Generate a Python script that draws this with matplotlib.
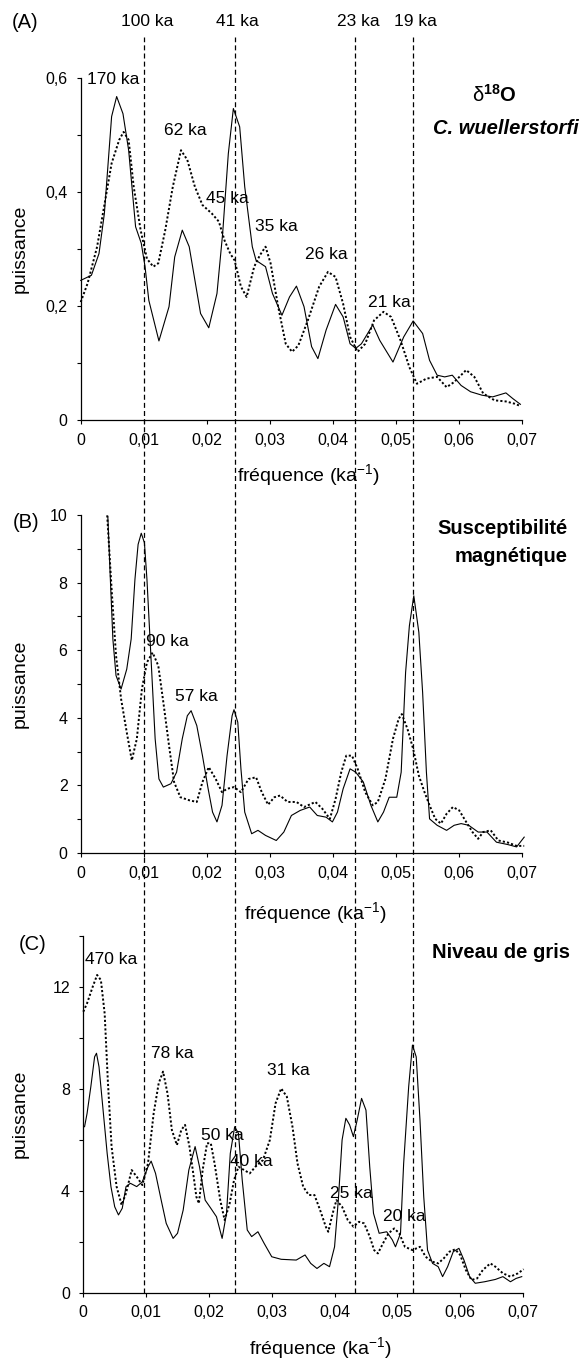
import numpy as np
import matplotlib
matplotlib.use("Agg")
import matplotlib.pyplot as plt
from matplotlib.ticker import FixedLocator, FuncFormatter

plt.rcParams['font.family'] = ['Liberation Sans', 'DejaVu Sans']
plt.rcParams['mathtext.fontset'] = 'custom'
plt.rcParams['mathtext.rm'] = 'Liberation Sans'
plt.rcParams['mathtext.bf'] = 'Liberation Sans:bold'
plt.rcParams['mathtext.it'] = 'Liberation Sans:italic'

# ---------------- data ----------------
periods = [100, 41, 23, 19]  # ka, reference periods (dashed lines)

# Panel A : d18O C. wuellerstorfi
a_solid_x = [0, 0.0017, 0.0029, 0.00375, 0.0049, 0.0057, 0.0067, 0.0076, 0.0087, 0.0096,
             0.0102, 0.0108, 0.0124, 0.0140, 0.0149, 0.0161, 0.0172, 0.0190, 0.0203, 0.0216,
             0.0225, 0.0234, 0.0242, 0.0252, 0.0260, 0.0272, 0.0278, 0.0293, 0.0304, 0.0319,
             0.0331, 0.0342, 0.0354, 0.0366, 0.0376, 0.0389, 0.0404, 0.0416, 0.0427, 0.0436,
             0.0445, 0.0463, 0.0474, 0.0495, 0.0512, 0.0527, 0.0542, 0.0553, 0.0565, 0.0577,
             0.0589, 0.0603, 0.0618, 0.0636, 0.0653, 0.0674, 0.0685, 0.0697]
a_solid_y = [0.245, 0.254, 0.292, 0.362, 0.532, 0.567, 0.537, 0.473, 0.339, 0.310,
             0.269, 0.210, 0.139, 0.199, 0.286, 0.333, 0.304, 0.187, 0.162, 0.222,
             0.327, 0.467, 0.546, 0.514, 0.409, 0.304, 0.280, 0.269, 0.222, 0.184,
             0.216, 0.235, 0.199, 0.129, 0.108, 0.158, 0.203, 0.181, 0.134, 0.126,
             0.134, 0.167, 0.140, 0.102, 0.146, 0.174, 0.152, 0.105, 0.079, 0.076,
             0.079, 0.061, 0.050, 0.044, 0.041, 0.048, 0.038, 0.028]
a_dot_x = [0, 0.0011, 0.0026, 0.0038, 0.0049, 0.0061, 0.0068, 0.0076, 0.0084, 0.0095,
           0.0105, 0.0115, 0.0123, 0.0134, 0.0146, 0.0159, 0.0169, 0.0181, 0.0193, 0.0208,
           0.0219, 0.0228, 0.0237, 0.0244, 0.0254, 0.0263, 0.0275, 0.0284, 0.0293, 0.0301,
           0.0313, 0.0325, 0.0335, 0.0345, 0.0360, 0.0378, 0.0392, 0.0404, 0.0416, 0.0427,
           0.0439, 0.0451, 0.0465, 0.0480, 0.0492, 0.0507, 0.0521, 0.0533, 0.0548, 0.0565,
           0.0580, 0.0592, 0.0611, 0.0624, 0.0638, 0.0656, 0.0674, 0.0688, 0.0697]
a_dot_y = [0.207, 0.240, 0.304, 0.380, 0.450, 0.491, 0.505, 0.491, 0.409, 0.333,
           0.283, 0.269, 0.275, 0.333, 0.409, 0.473, 0.456, 0.409, 0.377, 0.362,
           0.348, 0.315, 0.292, 0.280, 0.234, 0.216, 0.269, 0.289, 0.304, 0.275,
           0.199, 0.134, 0.120, 0.131, 0.175, 0.234, 0.260, 0.251, 0.204, 0.146,
           0.120, 0.134, 0.175, 0.190, 0.181, 0.140, 0.093, 0.064, 0.073, 0.076,
           0.058, 0.067, 0.088, 0.076, 0.047, 0.035, 0.033, 0.029, 0.025]
a_labels = ["170 ka", "62 ka", "45 ka", "35 ka", "26 ka", "21 ka"]
a_label_x = [0.0052, 0.0166, 0.0232, 0.0310, 0.0390, 0.0490]
a_label_y = [0.596, 0.508, 0.389, 0.339, 0.291, 0.207]

# Panel B : susceptibilite magnetique
b_solid_x = [0.0043, 0.0047, 0.0051, 0.0056, 0.0064, 0.0073, 0.0080, 0.0086, 0.0091, 0.0096,
             0.0101, 0.0105, 0.0111, 0.0118, 0.0124, 0.0131, 0.0143, 0.0152, 0.0161, 0.0169,
             0.0175, 0.0184, 0.0193, 0.0202, 0.0209, 0.0216, 0.0224, 0.0232, 0.0240, 0.0243,
             0.0249, 0.0254, 0.0260, 0.0271, 0.0281, 0.0293, 0.0310, 0.0322, 0.0334, 0.0348,
             0.0363, 0.0375, 0.0389, 0.0399, 0.0407, 0.0416, 0.0427, 0.0436, 0.0448, 0.0460,
             0.0471, 0.0480, 0.0489, 0.0501, 0.0508, 0.0515, 0.0521, 0.0528, 0.0536, 0.0542,
             0.0548, 0.0553, 0.0565, 0.0580, 0.0592, 0.0603, 0.0615, 0.0630, 0.0644, 0.0659,
             0.0677, 0.0691, 0.0703]
b_solid_y = [9.95, 8.10, 6.33, 5.25, 4.85, 5.44, 6.33, 8.10, 9.13, 9.46,
             9.18, 8.10, 5.93, 3.38, 2.19, 1.95, 2.05, 2.39, 3.38, 4.06,
             4.21, 3.77, 2.88, 1.90, 1.21, 0.92, 1.41, 2.88, 4.06, 4.24,
             3.87, 2.49, 1.21, 0.57, 0.67, 0.52, 0.37, 0.62, 1.11, 1.26,
             1.36, 1.11, 1.06, 0.92, 1.21, 1.90, 2.49, 2.39, 2.10, 1.41,
             0.92, 1.21, 1.65, 1.65, 2.39, 5.34, 6.72, 7.61, 6.53, 4.75,
             2.39, 1.01, 0.82, 0.67, 0.82, 0.87, 0.82, 0.62, 0.62, 0.32,
             0.25, 0.18, 0.47]
b_dot_x = [0.0042, 0.0049, 0.0056, 0.0064, 0.0073, 0.0081, 0.0089, 0.0097, 0.0105, 0.0114,
           0.0123, 0.0131, 0.0140, 0.0148, 0.0158, 0.0172, 0.0184, 0.0193, 0.0203, 0.0214,
           0.0224, 0.0232, 0.0243, 0.0254, 0.0266, 0.0278, 0.0287, 0.0297, 0.0307, 0.0316,
           0.0328, 0.0342, 0.0354, 0.0372, 0.0383, 0.0395, 0.0404, 0.0413, 0.0421, 0.0430,
           0.0439, 0.0451, 0.0463, 0.0471, 0.0483, 0.0495, 0.0504, 0.0509, 0.0518, 0.0527,
           0.0536, 0.0545, 0.0553, 0.0562, 0.0571, 0.0580, 0.0590, 0.0600, 0.0611, 0.0621,
           0.0630, 0.0638, 0.0650, 0.0662, 0.0677, 0.0691, 0.0703]
b_dot_y = [9.99, 7.80, 5.84, 4.56, 3.57, 2.74, 3.38, 4.85, 5.64, 5.93,
           5.54, 4.46, 3.18, 2.10, 1.65, 1.56, 1.51, 2.10, 2.54, 2.19,
           1.80, 1.90, 1.95, 1.80, 2.19, 2.24, 1.80, 1.43, 1.65, 1.70,
           1.51, 1.51, 1.36, 1.51, 1.31, 1.01, 1.60, 2.39, 2.88, 2.88,
           2.49, 1.80, 1.41, 1.51, 2.19, 3.38, 3.97, 4.11, 3.67, 3.08,
           2.29, 1.80, 1.41, 1.01, 0.87, 1.16, 1.36, 1.26, 0.92, 0.62,
           0.42, 0.62, 0.67, 0.37, 0.31, 0.21, 0.21]
b_labels = ["90 ka", "57 ka"]
b_label_x = [0.0137, 0.0184]
b_label_y = [6.26, 4.64]

# Panel C : niveau de gris
c_solid_x = [0.0002, 0.0006, 0.0012, 0.0018, 0.0021, 0.0025, 0.0032, 0.0038, 0.0044, 0.0050,
             0.0056, 0.0062, 0.0068, 0.0075, 0.0085, 0.0094, 0.0103, 0.0108, 0.0115, 0.0124,
             0.0132, 0.0143, 0.0150, 0.0159, 0.0168, 0.0178, 0.0185, 0.0194, 0.0203, 0.0212,
             0.0221, 0.0228, 0.0234, 0.0241, 0.0247, 0.0253, 0.0261, 0.0268, 0.0278, 0.0288,
             0.0300, 0.0315, 0.0339, 0.0353, 0.0362, 0.0372, 0.0383, 0.0392, 0.0400, 0.0406,
             0.0412, 0.0418, 0.0424, 0.0430, 0.0436, 0.0443, 0.0450, 0.0456, 0.0462, 0.0471,
             0.0483, 0.0492, 0.0497, 0.0505, 0.0510, 0.0518, 0.0524, 0.0530, 0.0536, 0.0542,
             0.0548, 0.0556, 0.0565, 0.0572, 0.0580, 0.0589, 0.0598, 0.0606, 0.0615, 0.0624,
             0.0639, 0.0656, 0.0668, 0.0680, 0.0689, 0.0698]
c_solid_y = [6.51, 7.03, 8.08, 9.25, 9.39, 8.86, 7.03, 5.46, 4.16, 3.37,
             3.05, 3.31, 4.16, 4.29, 4.16, 4.35, 4.94, 5.16, 4.68, 3.63,
             2.72, 2.13, 2.33, 3.24, 4.81, 5.73, 4.94, 3.63, 3.31, 2.98,
             2.13, 3.11, 5.46, 6.51, 6.25, 4.42, 2.46, 2.20, 2.39, 1.93,
             1.41, 1.31, 1.28, 1.48, 1.15, 0.95, 1.15, 1.02, 1.80, 3.63,
             5.99, 6.84, 6.58, 6.12, 6.77, 7.62, 7.16, 4.94, 3.11, 2.33,
             2.39, 2.07, 1.80, 2.33, 5.07, 8.08, 9.71, 9.25, 6.77, 3.76,
             1.67, 1.15, 1.02, 0.63, 1.02, 1.61, 1.74, 1.28, 0.63, 0.37,
             0.43, 0.52, 0.63, 0.43, 0.56, 0.63]
c_dot_x = [0.0, 0.0006, 0.0015, 0.0022, 0.0028, 0.0034, 0.0039, 0.0045, 0.0053, 0.0061,
           0.0068, 0.0077, 0.0085, 0.0094, 0.0103, 0.0112, 0.0120, 0.0127, 0.0134, 0.0141,
           0.0149, 0.0156, 0.0162, 0.0169, 0.0175, 0.0180, 0.0184, 0.0190, 0.0197, 0.0203,
           0.0209, 0.0218, 0.0225, 0.0233, 0.0240, 0.0247, 0.0256, 0.0265, 0.0274, 0.0286,
           0.0297, 0.0306, 0.0315, 0.0324, 0.0333, 0.0341, 0.0350, 0.0359, 0.0368, 0.0377,
           0.0386, 0.0390, 0.0397, 0.0403, 0.0412, 0.0421, 0.0430, 0.0439, 0.0447, 0.0456,
           0.0463, 0.0469, 0.0477, 0.0486, 0.0495, 0.0503, 0.0512, 0.0524, 0.0536, 0.0545,
           0.0555, 0.0565, 0.0574, 0.0583, 0.0592, 0.0600, 0.0609, 0.0618, 0.0627, 0.0636,
           0.0648, 0.0656, 0.0668, 0.0680, 0.0692, 0.0701]
c_dot_y = [11.02, 11.35, 12.00, 12.46, 12.26, 10.95, 8.34, 5.73, 4.16, 3.44,
           3.90, 4.81, 4.55, 4.22, 5.07, 7.03, 8.21, 8.67, 7.82, 6.38,
           5.79, 6.38, 6.58, 5.73, 4.68, 3.76, 3.50, 4.81, 5.86, 5.86,
           5.07, 3.63, 2.85, 3.50, 4.42, 4.94, 4.81, 4.68, 4.94, 5.20,
           5.99, 7.42, 8.01, 7.69, 6.51, 5.07, 4.16, 3.83, 3.83, 3.24,
           2.59, 2.39, 3.11, 3.63, 3.37, 2.85, 2.59, 2.78, 2.72, 2.20,
           1.67, 1.54, 1.93, 2.33, 2.52, 2.33, 1.80, 1.67, 1.80, 1.41,
           1.22, 1.15, 1.35, 1.61, 1.70, 1.48, 0.89, 0.50, 0.56, 0.89,
           1.15, 1.02, 0.76, 0.63, 0.76, 0.92]
c_labels = ["470 ka", "78 ka", "50 ka", "40 ka", "31 ka", "25 ka", "20 ka"]
c_label_x = [0.0044, 0.0141, 0.0221, 0.0268, 0.0326, 0.0426, 0.0511]
c_label_y = [13.07, 9.39, 6.18, 5.14, 8.71, 3.90, 2.98]

x_ticks = [0, 0.01, 0.02, 0.03, 0.04, 0.05, 0.06, 0.07]

# ---------------- layout helpers ----------------
W, H = 581, 1363
fig = plt.figure(figsize=(W / 100, H / 100), dpi=100)


def box(l, t, r, b):
    return [l / W, 1 - b / H, (r - l) / W, (b - t) / H]


def P(x, y):
    return (x / W, 1 - y / H)


def fmt_comma(v, nd):
    if abs(v) < 1e-12:
        return "0"
    return f"{v:.{nd}f}".replace('.', ',')


def style(ax, ymax, ystep, ylab_step, ynd):
    ax.set_xlim(0, 0.07)
    ax.set_ylim(0, ymax)
    for s in ('top', 'right'):
        ax.spines[s].set_visible(False)
    for s in ('left', 'bottom'):
        ax.spines[s].set_linewidth(0.9)
    ax.xaxis.set_major_locator(FixedLocator(x_ticks))
    ax.xaxis.set_major_formatter(FuncFormatter(lambda v, p: fmt_comma(v, 2)))
    yt = np.round(np.arange(0, ymax + ystep / 2, ystep), 6)
    ax.yaxis.set_major_locator(FixedLocator(yt))

    def yf(v, p):
        k = v / ylab_step
        if abs(k - round(k)) < 1e-6:
            return fmt_comma(v, ynd)
        return ""
    ax.yaxis.set_major_formatter(FuncFormatter(yf))
    ax.tick_params(direction='out', length=3, width=0.8, labelsize=11.5, color='black')
    ax.tick_params(axis='x', pad=6)
    ax.tick_params(axis='y', pad=6.5)


def curves(ax, sx, sy, dx, dy):
    ax.plot(sx, sy, color='black', lw=0.8, clip_on=False)
    ax.plot(dx, dy, color='black', lw=1.4, linestyle=(0, (1.1, 1.1)), clip_on=False)


def labels(ax, texts, xs, ys):
    for t, x, y in zip(texts, xs, ys):
        ax.text(x, y, t, ha='center', va='center', fontsize=12.5)


# ---------------- panels ----------------
axA = fig.add_axes(box(80.7, 77.7, 522.3, 420.3))
style(axA, 0.6, 0.1, 0.2, 1)
curves(axA, a_solid_x, a_solid_y, a_dot_x, a_dot_y)
labels(axA, a_labels, a_label_x, a_label_y)

axB = fig.add_axes(box(80.7, 515, 522.3, 853))
style(axB, 10, 1, 2, 0)
curves(axB, b_solid_x, b_solid_y, b_dot_x, b_dot_y)
labels(axB, b_labels, b_label_x, b_label_y)

axC = fig.add_axes(box(83.3, 935.7, 523, 1292.7))
style(axC, 14, 2, 4, 0)
curves(axC, c_solid_x, c_solid_y, c_dot_x, c_dot_y)
labels(axC, c_labels, c_label_x, c_label_y)

# overlay with dashed period lines spanning whole figure
ov = fig.add_axes(box(80.7, 37, 522.3, 1292.7))
ov.set_xlim(0, 0.07)
ov.set_ylim(0, 1)
ov.axis('off')
for p in periods:
    f = 1.0 / p
    ov.axvline(f, color='black', lw=0.9, dashes=(4, 2.5))
    xpx = 80.7 + f / 0.07 * 441.6 + 3
    fig.text(*P(xpx, 22), f"{p} ka", ha='center', va='center', fontsize=12.5)

# panel letters
fig.text(*P(25.5, 22), "(A)", ha='center', va='center', fontsize=14.5)
fig.text(*P(26.5, 522), "(B)", ha='center', va='center', fontsize=14.5)
fig.text(*P(32.5, 945), "(C)", ha='center', va='center', fontsize=14.5)

# y labels
for yc in [(77.7 + 420.3) / 2, (515 + 853) / 2, (935.7 + 1292.7) / 2]:
    fig.text(*P(20, yc), "puissance", ha='center', va='center', rotation=90, fontsize=14)

# x labels
xl = r"fréquence (ka$^{\mathregular{-1}}$)"
fig.text(*P(308, 475), xl, ha='center', va='center', fontsize=14)
fig.text(*P(315, 913), xl, ha='center', va='center', fontsize=14)
fig.text(*P(320, 1348), xl, ha='center', va='center', fontsize=14)

# titles
fig.text(*P(494, 95), r"$\mathrm{\delta}^{\mathbf{18}}\mathbf{O}$", ha='center', va='center',
         fontsize=14.5)
fig.text(*P(579, 128), "C. wuellerstorfi", ha='right', va='center', fontsize=14.5,
         fontweight='bold', fontstyle='italic')
fig.text(*P(568, 528), "Susceptibilité", ha='right', va='center', fontsize=14.5, fontweight='bold')
fig.text(*P(568, 557), "magnétique", ha='right', va='center', fontsize=14.5, fontweight='bold')
fig.text(*P(570, 952), "Niveau de gris", ha='right', va='center', fontsize=14.5, fontweight='bold')

fig.savefig("out.png", dpi=100)
